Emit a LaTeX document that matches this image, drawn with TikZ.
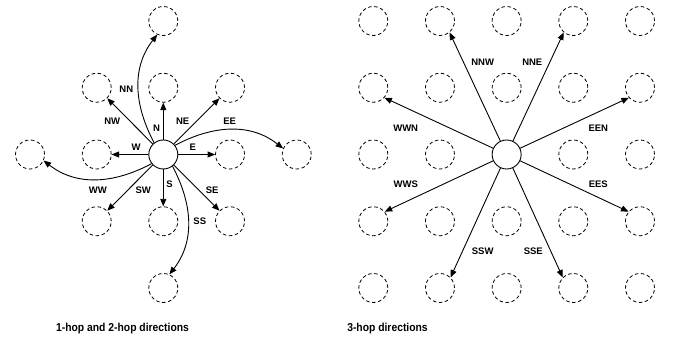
\documentclass[tikz,border=0pt]{standalone}
\usepackage{fontspec}
\setmainfont{Liberation Sans}
\usetikzlibrary{arrows.meta}
\begin{document}
\begin{tikzpicture}[x=1pt,y=1pt,
  ghost/.style={circle,draw,line width=0.8pt,dash pattern=on 3.5pt off 2.6pt,minimum size=29pt,inner sep=0pt},
  hub/.style={circle,draw,line width=0.9pt,minimum size=29pt,inner sep=0pt,fill=white},
  dirarrow/.style={line width=0.9pt,-{Triangle[length=7.5pt,width=6pt]}},
  lbl/.style={font=\fontsize{9.5}{11}\selectfont\bfseries,inner sep=0pt},
  caption/.style={font=\fontsize{11.5}{13}\selectfont\bfseries,inner sep=0pt,anchor=base,xscale=0.9,transform shape}
]
\useasboundingbox (0,0) rectangle (680,342);

% ---- left: 1-hop and 2-hop neighbours ----
\node[ghost] (lnn) at (163.3,321) {};
\node[ghost] (lnw) at (96.7,254.25) {};
\node[ghost] (ln)  at (163.3,254.25) {};
\node[ghost] (lne) at (230,254.25) {};
\node[ghost] (lww) at (30,187.5) {};
\node[ghost] (lw)  at (96.7,187.5) {};
\node[hub]   (lc)  at (163.3,187.5) {};
\node[ghost] (le)  at (230,187.5) {};
\node[ghost] (lee) at (296.7,187.5) {};
\node[ghost] (lsw) at (96.7,120.75) {};
\node[ghost] (ls)  at (163.3,120.75) {};
\node[ghost] (lse) at (230,120.75) {};
\node[ghost] (lss) at (163.3,54) {};

\draw[dirarrow] (lc) -- (ln.south);
\draw[dirarrow] (lc) -- (lne.south west);
\draw[dirarrow] (lc) -- (le.west);
\draw[dirarrow] (lc) -- (lse.north west);
\draw[dirarrow] (lc) -- (ls.north);
\draw[dirarrow] (lc) -- (lsw.north east);
\draw[dirarrow] (lc) -- (lw.east);
\draw[dirarrow] (lc) -- (lnw.south east);

\draw[dirarrow] (lc.128)  to[out=118,in=232]  (lnn.-114);
\draw[dirarrow] (lc.38)   to[out=28,in=142]   (lee.156);
\draw[dirarrow] (lc.-52)  to[out=-62,in=52]   (lss.66);
\draw[dirarrow] (lc.-142) to[out=-152,in=-38] (lww.-24);

\node[lbl] (tnn) at (126.3,252.7) {NN};
\node[lbl] (tnw) at (112.2,220.3) {NW};
\node[lbl] (tn)  at (156.5,214)   {N};
\node[lbl] (tne) at (182.7,220.3) {NE};
\node[lbl] (tee) at (229.6,220.3) {EE};
\node[lbl] (tw)  at (136,195)     {W};
\node[lbl] (te)  at (192.7,195)   {E};
\node[lbl] (ts)  at (169.6,158)   {S};
\node[lbl] (tww) at (97.8,152)    {WW};
\node[lbl] (tsw) at (143.3,152)   {SW};
\node[lbl] (tse) at (212.2,152)   {SE};
\node[lbl] (tss) at (199.8,120.3) {SS};

% ---- right: 3-hop neighbours on a 5x5 grid ----
\foreach \i in {0,...,4}{
  \foreach \j in {0,...,4}{
    \ifnum\i\j=22
      \node[hub] (r\i\j) at ({373.3+66.67*\i},{321-66.75*\j}) {};
    \else
      \node[ghost] (r\i\j) at ({373.3+66.67*\i},{321-66.75*\j}) {};
    \fi
  }
}

\draw[dirarrow] (r22) -- (r10.-50);
\draw[dirarrow] (r22) -- (r30.-130);
\draw[dirarrow] (r22) -- (r01.-42);
\draw[dirarrow] (r22) -- (r41.-138);
\draw[dirarrow] (r22) -- (r03.40);
\draw[dirarrow] (r22) -- (r43.140);
\draw[dirarrow] (r22) -- (r14.45);
\draw[dirarrow] (r22) -- (r34.135);

\node[lbl] (tnnw) at (482.7,279.3) {NNW};
\node[lbl] (tnne) at (532.3,279.3) {NNE};
\node[lbl] (twwn) at (405.7,213.7) {WWN};
\node[lbl] (teen) at (598.3,213.7) {EEN};
\node[lbl] (twws) at (405.7,157.7) {WWS};
\node[lbl] (tees) at (598.3,157.7) {EES};
\node[lbl] (tssw) at (482.7,90.3)  {SSW};
\node[lbl] (tsse) at (533.3,90.3)  {SSE};

% ---- captions ----
\node[caption] (cap1) at (122.5,10) {1-hop and 2-hop directions};
\node[caption] (cap2) at (387.5,10) {3-hop directions};
\end{tikzpicture}
\end{document}
